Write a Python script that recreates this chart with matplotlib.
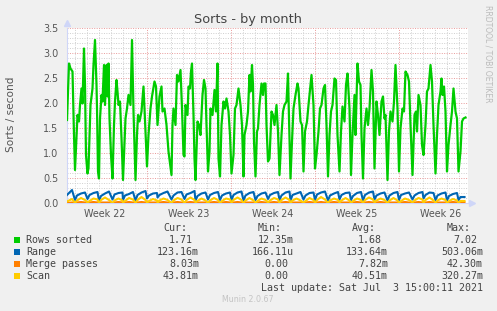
"""Munin style 'Sorts - by month' graph."""

import matplotlib
matplotlib.use("Agg")
import matplotlib.pyplot as plt
import numpy as np

from matplotlib.patches import Rectangle

# time axis is hours since the left edge of the graph (2 h per pixel)
span_hours = 802
last_sample = 797
week_starts = [160, 328, 496, 664]
week_label_pos = [76, 244, 412, 580, 748]
week_labels = ["Week 22", "Week 23", "Week 24", "Week 25", "Week 26"]
midnights = list(range(16, 802, 24))

# Rows sorted
rows_hours = [
    0, 4, 7, 11, 14, 16, 21, 24, 26, 29, 31, 34, 36, 38, 41, 43, 47, 51, 53, 56,
    59, 60, 62, 64, 66, 69, 71, 74, 76, 79, 81, 83, 85, 88, 91, 94, 96, 99, 101, 103,
    106, 109, 112, 117, 120, 123, 127, 130, 133, 137, 140, 142, 145, 149, 153, 155, 160, 163, 167, 170,
    175, 178, 181, 185, 189, 191, 195, 199, 203, 209, 211, 213, 217, 220, 223, 227, 230, 233, 235, 237,
    241, 243, 246, 248, 250, 253, 255, 257, 261, 264, 267, 271, 274, 277, 279, 282, 285, 287, 291, 295,
    298, 301, 303, 306, 309, 313, 316, 319, 323, 326, 329, 333, 336, 339, 343, 347, 350, 353, 355, 359,
    362, 365, 367, 370, 372, 374, 377, 380, 382, 385, 389, 392, 394, 397, 399, 402, 405, 409, 412, 415,
    419, 422, 425, 429, 432, 435, 439, 442, 444, 447, 450, 453, 457, 461, 463, 467, 470, 473, 476, 480,
    483, 486, 489, 493, 496, 499, 503, 506, 509, 513, 516, 519, 522, 525, 528, 531, 535, 538, 541, 545,
    548, 551, 555, 558, 561, 565, 568, 571, 575, 577, 581, 584, 587, 589, 592, 595, 599, 602, 605, 609,
    612, 615, 619, 622, 625, 629, 632, 635, 637, 641, 644, 647, 651, 654, 657, 661, 664, 667, 671, 674,
    677, 681, 684, 687, 691, 695, 698, 700, 703, 707, 710, 713, 717, 720, 723, 727, 730, 733, 737, 740,
    743, 747, 749, 751, 754, 757, 760, 763, 767, 770, 773, 777, 780, 783, 787, 790, 793, 797,
]
rows_sorted = [
    1.66, 2.79, 2.69, 2.63, 1.36, 0.66, 1.76, 1.63, 1.96, 2.29, 1.99, 3.09, 2.36, 0.96, 0.59, 0.70, 1.96, 2.29, 2.76, 3.26,
    2.36, 1.90, 0.63, 0.49, 1.69, 2.16, 2.03, 2.76, 1.96, 2.76, 2.13, 2.79, 1.69, 0.96, 0.49, 1.56, 2.03, 2.46, 2.23, 1.96,
    2.03, 1.30, 0.46, 1.69, 1.89, 2.16, 1.96, 3.26, 1.83, 0.46, 1.36, 1.76, 1.63, 1.83, 2.33, 1.89, 0.73, 1.36, 1.89, 2.13,
    2.43, 2.33, 1.56, 2.13, 2.33, 1.83, 1.89, 1.56, 1.03, 0.56, 1.56, 1.89, 1.56, 2.56, 2.43, 2.66, 1.89, 0.96, 0.93, 1.96,
    1.76, 2.33, 2.29, 2.63, 2.79, 1.76, 0.89, 0.46, 1.63, 1.56, 1.36, 2.16, 2.46, 2.29, 1.56, 0.63, 1.03, 1.89, 1.76, 2.26,
    1.83, 2.79, 0.89, 0.53, 1.56, 2.03, 1.89, 2.09, 1.83, 1.36, 0.59, 0.96, 1.89, 1.96, 2.29, 1.96, 1.56, 0.53, 1.36, 1.56,
    1.83, 2.56, 2.23, 2.76, 2.36, 1.23, 0.53, 1.43, 1.49, 1.96, 2.39, 2.16, 2.39, 2.39, 1.56, 0.83, 0.89, 1.83, 1.76, 1.56,
    1.96, 1.43, 0.56, 1.36, 1.83, 1.96, 2.03, 2.59, 1.69, 0.49, 1.23, 1.89, 2.16, 2.39, 2.29, 1.63, 1.56, 0.63, 1.43, 1.63,
    1.96, 2.26, 2.56, 1.96, 0.69, 0.96, 1.43, 1.89, 1.96, 2.29, 2.36, 1.56, 0.53, 1.36, 1.83, 1.96, 2.49, 2.46, 1.36, 0.63,
    1.43, 1.93, 1.63, 2.36, 2.59, 1.89, 0.56, 1.36, 2.16, 1.36, 2.79, 2.43, 2.36, 1.36, 0.49, 1.49, 1.89, 1.56, 1.89, 2.66,
    2.23, 0.69, 2.03, 1.76, 1.36, 2.03, 2.13, 1.69, 1.76, 0.46, 1.43, 1.83, 1.63, 2.03, 2.76, 1.89, 0.63, 1.49, 1.89, 1.83,
    2.63, 2.56, 2.43, 1.56, 0.56, 1.76, 1.83, 1.43, 2.16, 1.96, 1.16, 0.96, 1.56, 2.23, 2.29, 2.76, 2.43, 1.56, 0.59, 1.36,
    1.96, 2.23, 2.49, 2.16, 2.33, 1.83, 0.63, 1.16, 1.56, 1.83, 2.29, 1.83, 1.69, 0.63, 1.03, 1.63, 1.69, 1.71,
]

# the small series are read at the start and then four times per day,
# beginning at each nightly low
lead_hours = [0, 10]
valley_hours = [16, 41, 64, 91, 112, 137, 160, 181, 209, 235, 257, 282, 306, 329, 353, 377, 402,
                425, 447, 473, 496, 522, 545, 568, 592, 615, 641, 664, 691, 713, 737, 760, 783]
day_offsets = [0, 4, 12, 20]

range_vals = [
    0.16, 0.26,
    0.06, 0.15, 0.19, 0.21,  0.08, 0.16, 0.20, 0.22,  0.05, 0.14, 0.19, 0.23,  0.07, 0.17, 0.20, 0.21,
    0.06, 0.15, 0.18, 0.22,  0.05, 0.16, 0.21, 0.24,  0.09, 0.15, 0.19, 0.20,  0.11, 0.16, 0.20, 0.23,
    0.07, 0.15, 0.21, 0.22,  0.08, 0.17, 0.20, 0.24,  0.05, 0.14, 0.19, 0.21,  0.07, 0.16, 0.20, 0.22,
    0.06, 0.15, 0.19, 0.21,  0.06, 0.16, 0.21, 0.23,  0.05, 0.15, 0.20, 0.22,  0.06, 0.14, 0.19, 0.21,
    0.08, 0.16, 0.20, 0.22,  0.06, 0.15, 0.21, 0.23,  0.05, 0.16, 0.19, 0.22,  0.07, 0.15, 0.20, 0.21,
    0.06, 0.17, 0.21, 0.23,  0.05, 0.15, 0.19, 0.22,  0.07, 0.16, 0.20, 0.21,  0.06, 0.14, 0.20, 0.22,
    0.05, 0.16, 0.21, 0.23,  0.07, 0.15, 0.19, 0.21,  0.05, 0.15, 0.20, 0.22,  0.06, 0.16, 0.19, 0.21,
    0.07, 0.15, 0.20, 0.22,  0.09, 0.16, 0.21, 0.20,  0.06, 0.15, 0.19, 0.21,  0.05, 0.14, 0.18, 0.20,
    0.06, 0.12, 0.12, 0.12,
]
merge_vals = [
    0.00, 0.01,
    0.00, 0.01, 0.02, 0.01,  0.00, 0.01, 0.02, 0.01,  0.00, 0.01, 0.01, 0.01,  0.00, 0.01, 0.02, 0.01,
    0.00, 0.01, 0.02, 0.01,  0.00, 0.01, 0.02, 0.01,  0.00, 0.01, 0.01, 0.01,  0.00, 0.01, 0.02, 0.01,
    0.00, 0.01, 0.02, 0.01,  0.00, 0.01, 0.02, 0.01,  0.00, 0.01, 0.01, 0.01,  0.00, 0.01, 0.02, 0.01,
    0.00, 0.01, 0.02, 0.01,  0.00, 0.01, 0.02, 0.01,  0.00, 0.01, 0.01, 0.01,  0.00, 0.01, 0.02, 0.01,
    0.00, 0.01, 0.02, 0.01,  0.00, 0.01, 0.02, 0.01,  0.00, 0.01, 0.01, 0.01,  0.00, 0.01, 0.02, 0.01,
    0.00, 0.01, 0.02, 0.01,  0.00, 0.01, 0.02, 0.01,  0.00, 0.01, 0.01, 0.01,  0.00, 0.01, 0.02, 0.01,
    0.00, 0.01, 0.02, 0.01,  0.00, 0.01, 0.02, 0.01,  0.00, 0.01, 0.01, 0.01,  0.00, 0.01, 0.02, 0.01,
    0.00, 0.01, 0.02, 0.01,  0.00, 0.01, 0.02, 0.01,  0.00, 0.01, 0.01, 0.01,  0.00, 0.01, 0.02, 0.01,
    0.00, 0.01, 0.01, 0.01,
]
scan_vals = [
    0.03, 0.08,
    0.00, 0.05, 0.10, 0.06,  0.01, 0.04, 0.09, 0.07,  0.00, 0.06, 0.11, 0.06,  0.00, 0.05, 0.09, 0.05,
    0.01, 0.04, 0.10, 0.07,  0.00, 0.06, 0.12, 0.06,  0.01, 0.04, 0.08, 0.05,  0.01, 0.05, 0.09, 0.06,
    0.00, 0.05, 0.10, 0.07,  0.00, 0.06, 0.11, 0.06,  0.01, 0.04, 0.09, 0.05,  0.00, 0.05, 0.10, 0.06,
    0.00, 0.04, 0.09, 0.07,  0.01, 0.06, 0.11, 0.06,  0.00, 0.05, 0.10, 0.05,  0.00, 0.04, 0.09, 0.06,
    0.01, 0.05, 0.10, 0.07,  0.00, 0.06, 0.11, 0.06,  0.00, 0.05, 0.09, 0.05,  0.01, 0.04, 0.10, 0.06,
    0.00, 0.06, 0.12, 0.07,  0.00, 0.05, 0.09, 0.06,  0.01, 0.05, 0.10, 0.05,  0.00, 0.04, 0.09, 0.06,
    0.00, 0.06, 0.11, 0.07,  0.01, 0.05, 0.09, 0.06,  0.00, 0.05, 0.10, 0.05,  0.00, 0.04, 0.09, 0.06,
    0.01, 0.05, 0.10, 0.07,  0.00, 0.06, 0.11, 0.05,  0.00, 0.05, 0.09, 0.06,  0.00, 0.04, 0.08, 0.05,
    0.00, 0.04, 0.04, 0.04,
]

legend_names = ["Rows sorted", "Range", "Merge passes", "Scan"]
legend_colors = ["#00CC00", "#0066B3", "#FF8000", "#FFCC00"]
legend_cur = ["1.71", "123.16m", "8.03m", "43.81m"]
legend_min = ["12.35m", "166.11u", "0.00", "0.00"]
legend_avg = ["1.68", "133.64m", "7.82m", "40.51m"]
legend_max = ["7.02", "503.06m", "42.30m", "320.27m"]
last_update = "Last update: Sat Jul  3 15:00:11 2021"

W, H = 497, 311
small_hours = np.concatenate([lead_hours,
                              (np.array(valley_hours)[:, None] + np.array(day_offsets)).ravel()])
keep = small_hours <= last_sample

fig = plt.figure(figsize=(W / 100, H / 100), dpi=100, facecolor="#F0F0F0")
ax = fig.add_axes([67 / W, 108 / H, 401 / W, 175 / H])
ax.set_facecolor("white")
ax.set_xlim(0, span_hours)
ax.set_ylim(0, 3.5)

# grid: gray dotted minor, red dotted major
dots = (0, (1, 1.5))
for h in midnights:
    if h not in week_starts:
        ax.axvline(h, color="#cfcfcf", lw=0.7, ls=dots, zorder=0)
for v in np.arange(0.1, 3.5, 0.1):
    if abs(v * 2 - round(v * 2)) > 1e-6:
        ax.axhline(v, color="#cfcfcf", lw=0.7, ls=dots, zorder=0)
for h in week_starts:
    ax.axvline(h, color="#e89a9a", lw=0.7, ls=dots, zorder=0)
for v in np.arange(0.5, 3.6, 0.5):
    ax.axhline(v, color="#e89a9a", lw=0.7, ls=dots, zorder=0)

ax.plot(rows_hours, rows_sorted, color=legend_colors[0], lw=1.6, zorder=3)
ax.plot(small_hours[keep], np.array(range_vals)[keep], color=legend_colors[1], lw=1.5, zorder=4)
ax.plot(small_hours[keep], np.array(merge_vals)[keep], color=legend_colors[2], lw=1.5, zorder=5)
ax.plot(small_hours[keep], np.array(scan_vals)[keep], color=legend_colors[3], lw=1.5, zorder=6)

for side in ["top", "right"]:
    ax.spines[side].set_visible(False)
for side in ["left", "bottom"]:
    ax.spines[side].set_color("#CFD6F8")
    ax.spines[side].set_linewidth(0.8)
ax.plot([0], [1.03], marker="^", ms=4, color="#CFD6F8", transform=ax.transAxes, clip_on=False)
ax.plot([1.01], [0], marker=">", ms=4, color="#CFD6F8", transform=ax.transAxes, clip_on=False)

ax.set_yticks(np.arange(0, 3.6, 0.5))
ax.set_yticklabels(["%.1f" % v for v in np.arange(0, 3.6, 0.5)])
ax.set_xticks(week_label_pos)
ax.set_xticklabels(week_labels)
ax.tick_params(length=0, labelsize=6.9, labelcolor="#555555")
ax.tick_params(axis="y", pad=6)
ax.tick_params(axis="x", pad=4)

fig.text(0.5, 1 - 19 / H, "Sorts - by month", ha="center", va="center",
         fontsize=9.3, color="#444444")
fig.text(11 / W, 1 - 114 / H, "Sorts / second", rotation=90, ha="center", va="center",
         fontsize=7.6, color="#555555")
fig.text(488 / W, 1 - 5 / H, "RRDTOOL / TOBI OETIKER", rotation=270, ha="center", va="top",
         fontsize=5.5, color="#bbbbbb")

# legend block
mono = dict(family="DejaVu Sans Mono", fontsize=7.2, color="#444444", va="center")
col_right = [199, 294, 388, 483]
char_w = 6
for name, r in zip(["Cur:", "Min:", "Avg:", "Max:"], col_right):
    fig.text((r - 2 * char_w) / W, 1 - 228 / H, name, ha="right", **mono)
for i, name in enumerate(legend_names):
    y = 240 + 12 * i
    fig.patches.append(Rectangle((14 / W, 1 - (y + 3) / H), 6 / W, 6 / H,
                                 transform=fig.transFigure, facecolor=legend_colors[i],
                                 edgecolor="none"))
    fig.text(26 / W, 1 - y / H, name, ha="left", **mono)
    for vals, r in zip([legend_cur, legend_min, legend_avg, legend_max], col_right):
        s = vals[i]
        rr = r if s[-1].isalpha() else r - char_w
        fig.text(rr / W, 1 - y / H, s, ha="right", **mono)
fig.text(483 / W, 1 - 288 / H, last_update, ha="right", **mono)
fig.text(248 / W, 1 - 300 / H, "Munin 2.0.67", ha="center", va="center",
         fontsize=5.7, color="#c4c4c4")

fig.savefig("out.png", dpi=100, facecolor=fig.get_facecolor())
